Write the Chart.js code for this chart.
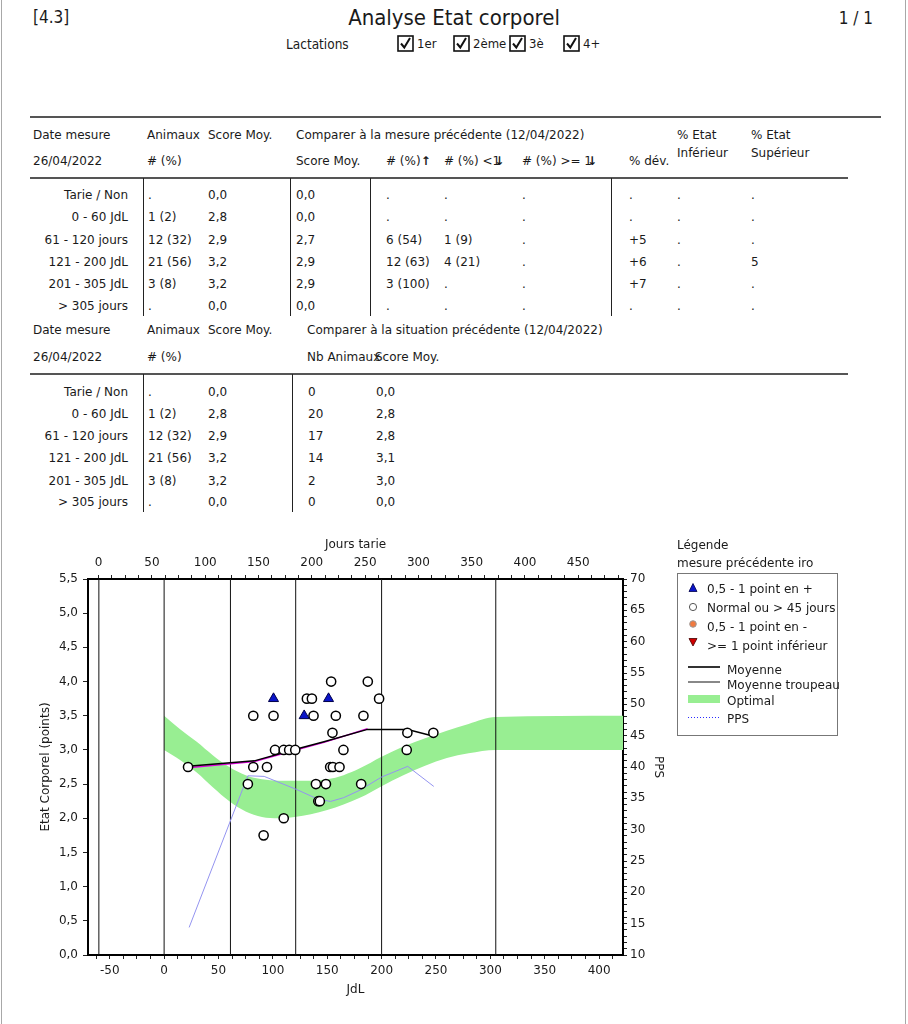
<!DOCTYPE html>
<html>
<head>
<meta charset="utf-8">
<script src="https://cdn.jsdelivr.net/npm/chart.js@4.4.1/dist/chart.umd.min.js"></script>
<style>
body { margin: 0; background: #fff; }
#page { position: relative; width: 908px; height: 1024px; overflow: hidden;
        font-family: "DejaVu Sans", sans-serif; font-size: 12px; color: #1a1a1a; }
.t { position: absolute; white-space: nowrap; line-height: 16px; height: 16px; }
.r { text-align: right; }
.cond { font-family: "DejaVu Sans Condensed", "DejaVu Sans", sans-serif; }
.hl { position: absolute; height: 2px; background: #555; }
.vl { position: absolute; width: 1px; background: #222; }
.arr { font-weight: bold; }
#chart { position: absolute; left: 0; top: 530px; }
</style>
</head>
<body>
<div id="page">
  <div style="position:absolute;left:1px;top:0;width:1px;height:1024px;background:#a8a8a8"></div>
  <div style="position:absolute;left:905px;top:0;width:1px;height:1024px;background:#a8a8a8"></div>
  <canvas id="chart" width="908" height="494"></canvas>
</div>
<script>
// Tables
const groupLabels = ['Tarie / Non', '0 - 60 JdL', '61 - 120 jours', '121 - 200 JdL', '201 - 305 JdL', '> 305 jours'];
const animaux = ['.', '1 (2)', '12 (32)', '21 (56)', '3 (8)', '.'];
const scoreMoy = ['0,0', '2,8', '2,9', '3,2', '3,2', '0,0'];
const prevScore = ['0,0', '0,0', '2,7', '2,9', '2,9', '0,0'];
const nbUp = ['.', '.', '6 (54)', '12 (63)', '3 (100)', '.'];
const nbDown = ['.', '.', '1 (9)', '4 (21)', '.', '.'];
const nbDownMore = ['.', '.', '.', '.', '.', '.'];
const pctDev = ['.', '.', '+5', '+6', '+7', '.'];
const pctInf = ['.', '.', '.', '.', '.', '.'];
const pctSup = ['.', '.', '.', '5', '.', '.'];
const herdNb = ['0', '20', '17', '14', '2', '0'];
const herdScore = ['0,0', '2,8', '2,8', '3,1', '3,0', '0,0'];

// Chart
const jdlTicks = [-50, 0, 50, 100, 150, 200, 250, 300, 350, 400];
const tarieTicks = [0, 50, 100, 150, 200, 250, 300, 350, 400, 450];
const scoreTicks = [0, 0.5, 1, 1.5, 2, 2.5, 3, 3.5, 4, 4.5, 5, 5.5];
const ppsTicks = [10, 15, 20, 25, 30, 35, 40, 45, 50, 55, 60, 65, 70];

const phaseDays = [-60, 0, 61, 121, 200, 305];

const normalDays = [22, 77, 82, 82, 91.5, 94.6, 100.6, 102, 110, 110, 115, 120.6, 131.3, 135.9, 137.4, 139.6,
    141.8, 143.2, 148.8, 152.7, 153.6, 154.8, 155.2, 157.9, 161.3, 164.9, 181.2, 183.3, 187.3, 197.7, 223.1, 223.7, 247.6];
const normalScores = [2.75, 2.5, 3.5, 2.75, 1.75, 2.75, 3.5, 3.0, 3.0, 2.0, 3.0, 3.0, 3.75, 3.75, 3.5, 2.5,
    2.25, 2.25, 2.5, 2.75, 4.0, 3.25, 2.75, 3.5, 2.75, 3.0, 2.5, 3.5, 4.0, 3.75, 3.0, 3.25, 3.25];
const upDays = [100.6, 128.8, 151.2];
const upScores = [3.75, 3.5, 3.75];

const meanDays = [22, 83, 121, 147, 187, 200, 224, 248];
const meanScores = [2.76, 2.84, 3.01, 3.12, 3.3, 3.3, 3.3, 3.2];
const prevMeanDays = [22, 83, 121, 147, 187];
const prevMeanScores = [2.74, 2.83, 3.0, 3.11, 3.31];

const ppsDays = [23, 77, 92, 122, 141, 153, 165, 180, 200, 224, 248];
const ppsValues = [14.4, 38.6, 38.5, 36.4, 34.9, 34.5, 35.1, 36.3, 38.4, 40.1, 36.9];

const bandDays = [0, 15, 30, 45, 60, 75, 90, 105, 120, 135, 150, 165, 180, 200, 220, 240, 260, 280, 305, 422];
const bandUpper = [3.5, 3.3, 3.12, 2.92, 2.75, 2.63, 2.57, 2.55, 2.55, 2.55, 2.57, 2.63, 2.73, 2.9, 3.05, 3.17, 3.28, 3.38, 3.48, 3.5];
const bandLower = [3.0, 2.85, 2.67, 2.45, 2.25, 2.1, 2.02, 2.0, 2.02, 2.06, 2.12, 2.2, 2.3, 2.47, 2.63, 2.77, 2.88, 2.95, 3.0, 3.0];

const page = document.getElementById('page');

function put(x, y, s, cls, css, html) {
    const d = document.createElement('div');
    d.className = 't' + (cls ? ' ' + cls : '');
    d.style.left = x + 'px';
    d.style.top = (y - 8) + 'px';
    if (css) d.style.cssText += css;
    if (html) d.innerHTML = s;
    else d.textContent = s;
    page.appendChild(d);
    return d;
}
function putR(xr, y, s, cls, css) {
    const d = put(xr - 200, y, s, 'r' + (cls ? ' ' + cls : ''), css);
    d.style.width = '200px';
    return d;
}
function hline(x, y, w, css) {
    const d = document.createElement('div');
    d.className = 'hl';
    d.style.cssText += `left:${x}px;top:${y}px;width:${w}px;` + (css || '');
    page.appendChild(d);
}
function vline(x, y, h) {
    const d = document.createElement('div');
    d.className = 'vl';
    d.style.cssText += `left:${x}px;top:${y}px;height:${h}px`;
    page.appendChild(d);
}
function checkbox(x, y) {
    const d = document.createElement('div');
    d.style.cssText = `position:absolute;left:${x}px;top:${y}px;width:17px;height:17px`;
    d.innerHTML = '<svg width="17" height="17"><rect x="1" y="1" width="15" height="15" fill="#fff" stroke="#111" stroke-width="1.6"/>'
        + '<path d="M4 8.5 L7.3 12.5 L13 3" fill="none" stroke="#111" stroke-width="2"/></svg>';
    page.appendChild(d);
}

// header
put(33, 17, '[4.3]', 'cond', 'font-size:17px;line-height:20px;height:20px;top:7px');
put(0, 18, 'Analyse Etat corporel', 'cond', 'width:908px;text-align:center;font-size:22px;line-height:24px;height:24px;top:6px');
putR(873, 18, '1 / 1', 'cond', 'font-size:17px;line-height:20px;height:20px;top:8px');
put(286, 44, 'Lactations', 'cond', 'font-size:13.5px');
[[397, '1er'], [453, '2ème'], [509, '3è'], [563, '4+']].forEach(([x, s]) => {
    checkbox(x, 35);
    put(x + 20, 44, s, 'cond', 'font-size:13px');
});
hline(30, 116, 851);

// table 1
const rowY1 = [195, 217, 239.5, 262, 284, 306];
put(33, 135, 'Date mesure'); put(147, 135, 'Animaux'); put(208, 135, 'Score Moy.');
put(296, 135, 'Comparer à la mesure précédente (12/04/2022)');
put(677, 135, '% Etat'); put(751, 135, '% Etat');
put(33, 161, '26/04/2022'); put(147, 161, '# (%)'); put(296, 161, 'Score Moy.');
put(386, 161, '# (%)<span class="arr">↑</span>', '', '', true);
put(444, 161, '# (%) &lt;1<span class="arr" style="margin-left:-6px">↓</span>', '', '', true);
put(522, 161, '# (%) &gt;= 1<span class="arr" style="margin-left:-5px">↓</span>', '', '', true);
put(629, 161, '% dév.'); put(677, 153, 'Inférieur'); put(751, 153, 'Supérieur');
hline(30, 177, 818);
[143, 290, 370, 611].forEach(x => vline(x, 178, 138));
groupLabels.forEach((g, i) => {
    const y = rowY1[i];
    putR(128, y, g);
    put(148, y, animaux[i]); put(208, y, scoreMoy[i]); put(296, y, prevScore[i]);
    put(386, y, nbUp[i]); put(444, y, nbDown[i]); put(522, y, nbDownMore[i]);
    put(629, y, pctDev[i]); put(677, y, pctInf[i]); put(751, y, pctSup[i]);
});

// table 2
const rowY2 = [392, 414, 436, 458, 480.5, 502];
put(33, 330, 'Date mesure'); put(147, 330, 'Animaux'); put(208, 330, 'Score Moy.');
put(307, 330, 'Comparer à la situation précédente (12/04/2022)');
put(33, 357, '26/04/2022'); put(147, 357, '# (%)');
put(307, 357, 'Nb Animaux'); put(375, 357, 'Score Moy.');
hline(30, 373, 818);
[143, 292].forEach(x => vline(x, 374, 138));
groupLabels.forEach((g, i) => {
    const y = rowY2[i];
    putR(128, y, g);
    put(148, y, animaux[i]); put(208, y, scoreMoy[i]);
    put(308, y, herdNb[i]); put(376, y, herdScore[i]);
});

// legend
put(677, 545, 'Légende');
put(677, 563, 'mesure précédente iro');
const box = document.createElement('div');
box.style.cssText = 'position:absolute;left:677px;top:573px;width:159px;height:161px;border:1px solid #777';
page.appendChild(box);
function icon(x, y, svg) {
    const d = document.createElement('div');
    d.style.cssText = `position:absolute;left:${x - 6}px;top:${y - 6}px;width:12px;height:12px`;
    d.innerHTML = '<svg width="12" height="12">' + svg + '</svg>';
    page.appendChild(d);
}
icon(693, 588, '<polygon points="6,1.5 10,9.5 2,9.5" fill="#0a14c8" stroke="#00004a" stroke-width="0.8"/>');
icon(693, 606.5, '<circle cx="6" cy="6" r="3.6" fill="#fff" stroke="#555" stroke-width="1"/>');
icon(693, 624, '<circle cx="6" cy="6" r="3.3" fill="#f07a40" stroke="#999" stroke-width="1"/>');
icon(693, 641.5, '<polygon points="2,2.5 10,2.5 6,10" fill="#d00000" stroke="#400" stroke-width="0.8"/>');
put(707, 589, '0,5 - 1 point en +');
put(707, 608, 'Normal ou > 45 jours');
put(707, 627, '0,5 - 1 point en -');
put(707, 645.5, '>= 1 point inférieur');
hline(688, 666, 32, 'height:1.5px;background:#333');
hline(688, 681, 32, 'height:1.5px;background:#888');
hline(688, 695, 32, 'height:8px;background:#98ee92');
hline(688, 717, 32, 'height:1px;background:repeating-linear-gradient(to right,#2a2aff 0 1px,transparent 1px 3px)');
put(727, 669.5, 'Moyenne');
put(727, 685, 'Moyenne troupeau');
put(727, 701, 'Optimal');
put(727, 719, 'PPS');

// chart
Chart.defaults.font.family = '"DejaVu Sans", sans-serif';
Chart.defaults.font.size = 12;
Chart.defaults.color = '#1a1a1a';

function pts(xs, ys) {
    return xs.map((x, i) => ({ x: x, y: ys[i] }));
}
function stepTicks(min, max, step) {
    const out = [];
    for (let v = Math.ceil(min / step) * step; v <= max + 1e-9; v += step) out.push({ value: +v.toFixed(4) });
    return out;
}
const fmtScore = v => v.toFixed(1).replace('.', ',');

const phaseSets = phaseDays.map(d => ({
    data: [{ x: d, y: 0 }, { x: d, y: 5.5 }],
    borderColor: '#111', borderWidth: 1, pointRadius: 0
}));

const axisCommon = {
    type: 'linear',
    grid: { drawOnChartArea: false, tickLength: 4, color: '#222' },
    border: { width: 2, color: '#000' },
};

new Chart(document.getElementById('chart'), {
    type: 'line',
    data: {
        datasets: [
            {
                data: pts(upDays, upScores), showLine: false,
                pointStyle: 'triangle', pointRadius: 5.8,
                pointBackgroundColor: '#0a14c8', pointBorderColor: '#00004a', pointBorderWidth: 1
            },
            {
                data: pts(normalDays, normalScores), showLine: false,
                pointStyle: 'circle', pointRadius: 4.6,
                pointBackgroundColor: '#fff', pointBorderColor: '#000', pointBorderWidth: 1.5
            },
            { data: pts(meanDays, meanScores), borderColor: '#000', borderWidth: 1.5, pointRadius: 0 },
            { data: pts(prevMeanDays, prevMeanScores), borderColor: '#e000e0', borderWidth: 1.5, pointRadius: 0 },
            {
                data: pts(ppsDays, ppsValues), yAxisID: 'yPPS',
                borderColor: '#9494f0', borderWidth: 1, pointRadius: 0
            },
            ...phaseSets,
            {
                data: pts(bandDays, bandUpper), fill: '+1', backgroundColor: '#98ee92',
                borderWidth: 0, pointRadius: 0, cubicInterpolationMode: 'monotone'
            },
            {
                data: pts(bandDays, bandLower), fill: false,
                borderWidth: 0, pointRadius: 0, cubicInterpolationMode: 'monotone'
            }
        ]
    },
    options: {
        responsive: false,
        animation: false,
        events: [],
        layout: { padding: { left: 39, right: 243, top: 8, bottom: 27 } },
        plugins: { legend: { display: false }, tooltip: { enabled: false } },
        scales: {
            x: {
                ...axisCommon, position: 'bottom', min: -70, max: 422,
                afterBuildTicks: s => { s.ticks = stepTicks(-70, 422, 12.5); },
                ticks: { autoSkip: false, maxRotation: 0, padding: 5,
                    callback: v => jdlTicks.includes(v) ? String(v) : '' },
                title: { display: true, text: 'JdL', padding: 0 },
                afterFit: s => { s.height = 42; }
            },
            xTop: {
                ...axisCommon, position: 'top', min: -10, max: 492,
                afterBuildTicks: s => { s.ticks = stepTicks(-10, 492, 12.5); },
                ticks: { autoSkip: false, maxRotation: 0, padding: 5,
                    callback: v => tarieTicks.includes(v) ? String(v) : '' },
                title: { display: true, text: 'Jours tarie', padding: 0 },
                afterFit: s => { s.height = 41; }
            },
            y: {
                ...axisCommon, position: 'left', min: 0, max: 5.5,
                grid: { drawOnChartArea: false, tickLength: 5, color: '#222' },
                afterBuildTicks: s => { s.ticks = scoreTicks.map(v => ({ value: v })); },
                ticks: { autoSkip: false, padding: 5, callback: v => fmtScore(v) },
                title: { display: true, text: 'Etat Corporel (points)', padding: 0 },
                afterFit: s => { s.width = 49; }
            },
            yPPS: {
                ...axisCommon, position: 'right', min: 10, max: 70,
                afterBuildTicks: s => { s.ticks = stepTicks(10, 70, 1); },
                ticks: { autoSkip: false, padding: 3,
                    callback: v => ppsTicks.includes(v) ? String(v) : '' },
                title: { display: true, text: 'PPS', padding: 0 },
                afterFit: s => { s.width = 42; }
            }
        }
    }
});
</script>
</body>
</html>
